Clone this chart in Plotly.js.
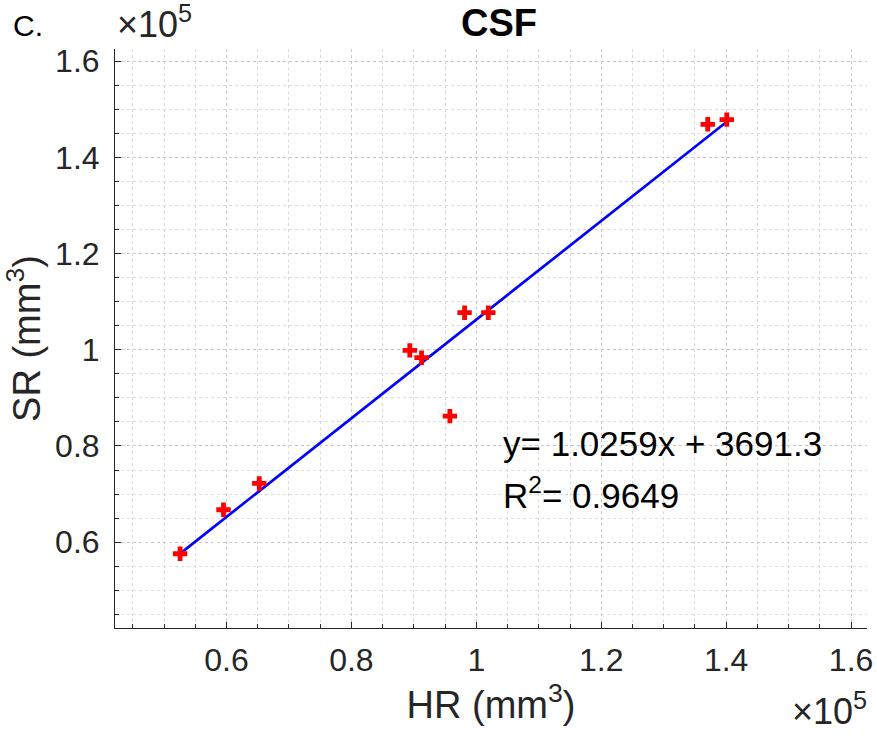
<!DOCTYPE html>
<html>
<head>
<meta charset="utf-8">
<script src="https://cdn.plot.ly/plotly-3.0.1.min.js"></script>
<style>html,body{margin:0;padding:0;background:#fff;}#chart{width:877px;height:741px;}</style>
</head>
<body>
<div id="chart"></div>
<script>
// Data in units of 1e5 mm^3
const hrValues = [0.5257, 0.5952, 0.6525, 0.8935, 0.9123, 0.9577, 0.9812, 1.0192, 1.3705, 1.4010];
const srValues = [0.5759, 0.6674, 0.7221, 0.9988, 0.9836, 0.8621, 1.0772, 1.0772, 1.4689, 1.4787];
const fitSlope = 1.0259;
const fitIntercept = 3691.3;   // mm^3
const rSquared = 0.9649;
const tickVals = [0.6, 0.8, 1, 1.2, 1.4, 1.6];
const tickText = ["0.6", "0.8", "1", "1.2", "1.4", "1.6"];

const xMin = Math.min(...hrValues), xMax = Math.max(...hrValues);
const fitX = [xMin, xMax];
const fitY = fitX.map(x => fitSlope * x + fitIntercept / 1e5);

const FONT = "Liberation Sans, Arial, Helvetica, sans-serif";
const TXT = "#262626";

const axisCommon = {
  range: [0.4215, 1.6255],
  tickvals: tickVals,
  ticktext: tickText,
  ticks: "inside",
  ticklen: 6,
  tickcolor: TXT,
  showline: true,
  linecolor: TXT,
  linewidth: 1,
  mirror: false,
  showgrid: true,
  gridcolor: "#c8c8c8",
  griddash: "dot",
  gridwidth: 1,
  zeroline: false,
  tickfont: {family: FONT, size: 32, color: TXT},
  minor: {dtick: 0.05, ticks: "inside", ticklen: 4, tickcolor: TXT, showgrid: true, gridcolor: "#dcdcdc", griddash: "dot", gridwidth: 1}
};

const traces = [
  {x: fitX, y: fitY, mode: "lines", line: {color: "#0000ff", width: 2.7}, hoverinfo: "skip", showlegend: false},
  {x: hrValues, y: srValues, mode: "markers", marker: {symbol: "cross", size: 12, color: "#ff0000", line: {width: 0}}, showlegend: false}
];

const layout = {
  width: 877, height: 741,
  margin: {l: 115, r: 10, t: 49, b: 113},
  paper_bgcolor: "#ffffff", plot_bgcolor: "#ffffff",
  font: {family: FONT, color: TXT},
  showlegend: false,
  xaxis: Object.assign({}, axisCommon, {
    ticklabelstandoff: 4,
    title: {text: "HR (mm<sup>3</sup>)", font: {family: FONT, size: 38, color: TXT}, standoff: 6}
  }),
  yaxis: Object.assign({}, axisCommon, {
    ticklabelstandoff: 8,
    title: {text: "SR (mm<sup>3</sup>)", font: {family: FONT, size: 38, color: TXT}, standoff: 10}
  }),
  annotations: [
    {text: "<b>CSF</b>", xref: "paper", yref: "paper", x: 0.5, y: 1, yanchor: "bottom", yshift: 3, xshift: 8, showarrow: false, font: {family: FONT, size: 38, color: "#000"}},
    {text: "C.", xref: "paper", yref: "paper", x: -0.138, y: 1, xanchor: "left", yanchor: "bottom", yshift: 5, showarrow: false, font: {family: FONT, size: 30, color: "#000"}},
    {text: "×10<sup>5</sup>", xref: "paper", yref: "paper", x: 0, y: 1, xanchor: "left", yanchor: "bottom", yshift: 2, showarrow: false, font: {family: FONT, size: 36, color: TXT}},
    {text: "×10<sup>5</sup>", xref: "paper", yref: "paper", x: 1.003, y: 0, xanchor: "right", yanchor: "top", yshift: -56, showarrow: false, font: {family: FONT, size: 36, color: TXT}},
    {text: "y= " + fitSlope.toFixed(4) + "x + " + fitIntercept.toFixed(1), xref: "x", yref: "y", x: 1.04, y: 0.805, xanchor: "left", yanchor: "middle", showarrow: false, font: {family: FONT, size: 35, color: "#000"}},
    {text: "R<sup>2</sup>= " + rSquared.toFixed(4), xref: "x", yref: "y", x: 1.04, y: 0.703, xanchor: "left", yanchor: "middle", showarrow: false, font: {family: FONT, size: 35, color: "#000"}}
  ]
};

Plotly.newPlot("chart", traces, layout, {displayModeBar: false, staticPlot: true});
</script>
</body>
</html>
